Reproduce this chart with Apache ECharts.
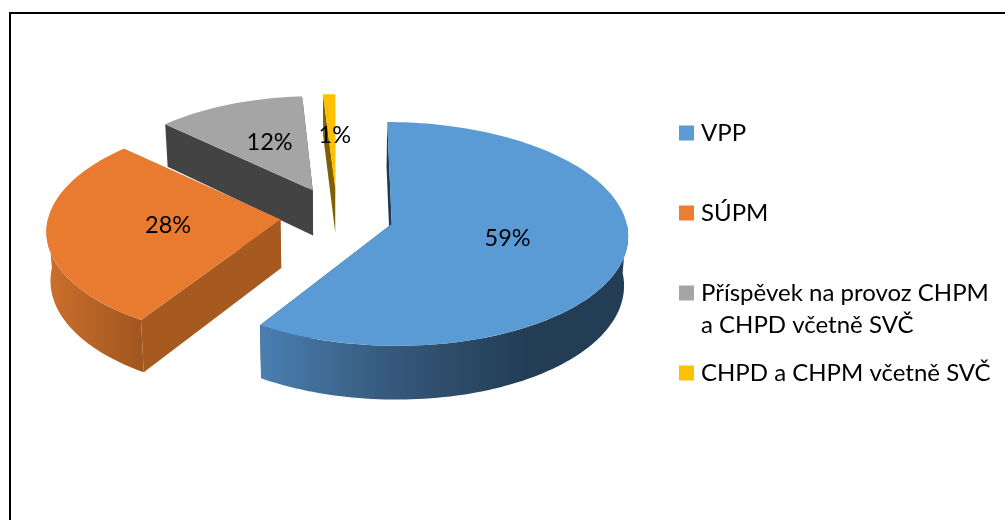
<!DOCTYPE html>
<html><head><meta charset="utf-8">
<style>html,body{margin:0;padding:0;background:#fff}#c{width:1005px;height:520px}</style>
<script src="https://cdn.jsdelivr.net/npm/echarts@6/dist/echarts.min.js"></script>
</head><body><div id="c"></div>
<script>
const categories = ['VPP', 'SÚPM', 'Příspěvek na provoz CHPM\na CHPD včetně SVČ', 'CHPD a CHPM včetně SVČ'];
const values = [59, 28, 12, 1];
const topColors = ['#5B9BD5', '#E97B30', '#A5A5A5', '#FFC000'];
const legendColors = ['#5B9BD5', '#ED7D31', '#A5A5A5', '#FFC000'];
const cutColors = ['#1F3A52', '#A65A20', '#434343', '#7F6000'];
const rimStops = [
  [[0, '#4A7FB0'], [0.35, '#36597C'], [0.72, '#233D55'], [1, '#233D55']],
  [[0, '#CC6F2C'], [1, '#A0561F']],
  [[0, '#434343'], [1, '#434343']],
  [[0, '#7F6000'], [1, '#7F6000']]
];
const legendTops = [117, 197, 245, 357];
const paintOrder = [3, 2, 1, 0];

const FONT = 'Lato, Carlito, sans-serif';
const START = 0, CX = 337, CY = 216, EXPLODE = 57, TILT = 0.5;
const RX = 235, RY = 111, PERSP = 0.0893, DEPTH = 49, SCALE_K = 0.0023, TAPER = 0.014;
const LABEL_DX = 3, LABEL_DY = -1;
const rad = d => d * Math.PI / 180;
const total = values.reduce((a, b) => a + b, 0);
const bounds = [];
values.reduce((acc, v, i) => { const e = acc + v / total * 360; bounds[i] = [acc, e]; return e; }, START);

function renderSlice(i) {
  const [a0, a1] = bounds[i], mid = (a0 + a1) / 2;
  const ax = CX + EXPLODE * Math.sin(rad(mid));
  const ay = CY - EXPLODE * TILT * Math.cos(rad(mid));
  const g = 1 + SCALE_K * (ay - 224);
  const top = th => {
    const s = 1 / (1 + PERSP * Math.cos(rad(th)));
    return [CX + (ax - CX) * s + RX * g * Math.sin(rad(th)) * s, ay - RY * g * Math.cos(rad(th)) * s, s];
  };
  const low = p => [CX + (p[0] - CX) * (1 - TAPER), p[1] + DEPTH * g * p[2]];
  const apex = [ax, ay, 1];
  const arc = (u, v) => {
    const out = [], n = Math.max(2, Math.ceil((v - u) / 1.5));
    for (let k = 0; k <= n; k++) out.push(top(u + (v - u) * k / n));
    return out;
  };
  const poly = (pts, fill, z2) => ({ type: 'polygon', z2: z2, shape: { points: pts.map(p => [p[0], p[1]]) }, style: { fill: fill, stroke: null } });
  const kids = [];
  [a0, a1].forEach(th => {
    const r = top(th);
    kids.push(poly([apex, r, low(r), low(apex)], cutColors[i], 1));
  });
  const u = Math.max(a0, 90), v = Math.min(a1, 270);
  if (v > u) {
    const rim = arc(u, v);
    kids.push(poly(rim.concat(rim.slice().reverse().map(low)),
      new echarts.graphic.LinearGradient(0, 0, 1, 0, rimStops[i].map(s => ({ offset: s[0], color: s[1] }))), 2));
  }
  kids.push(poly([apex].concat(arc(a0, a1)), topColors[i], 3));
  const lx = ax + 0.5 * RX * g * Math.sin(rad(mid)) + LABEL_DX;
  const ly = ay - 0.5 * RY * g * Math.cos(rad(mid)) + LABEL_DY;
  kids.push({ type: 'text', z2: 10, style: { x: lx, y: ly, text: values[i] + '%', fill: '#000', font: '23.5px ' + FONT, align: 'center', verticalAlign: 'middle' } });
  return { type: 'group', children: kids };
}

const series = paintOrder.map(i => ({
  type: 'custom', name: categories[i], coordinateSystem: 'none', silent: true, animation: false,
  itemStyle: { color: legendColors[i] }, z: 2 + paintOrder.indexOf(i),
  data: [values[i]], renderItem: () => renderSlice(i)
}));

const legend = categories.map((c, i) => ({
  data: [c], left: 679, top: legendTops[i], orient: 'vertical', padding: 0, selectedMode: false,
  itemWidth: 15, itemHeight: 15, icon: 'rect',
  formatter: n => n.indexOf('\n') >= 0 ? '\n' + n : n,
  textStyle: { fontFamily: FONT, fontSize: 24, color: '#000', lineHeight: 32, padding: [0, 0, 0, 2] }
}));

const chart = echarts.init(document.getElementById('c'), null, { renderer: 'canvas' });
chart.setOption({
  backgroundColor: '#fff', animation: false, legend: legend, series: series,
  graphic: [{ type: 'rect', silent: true, z: 0, shape: { x: 10, y: 13, width: 1200, height: 800 }, style: { fill: 'none', stroke: '#000', lineWidth: 2 } }]
});
</script></body></html>
